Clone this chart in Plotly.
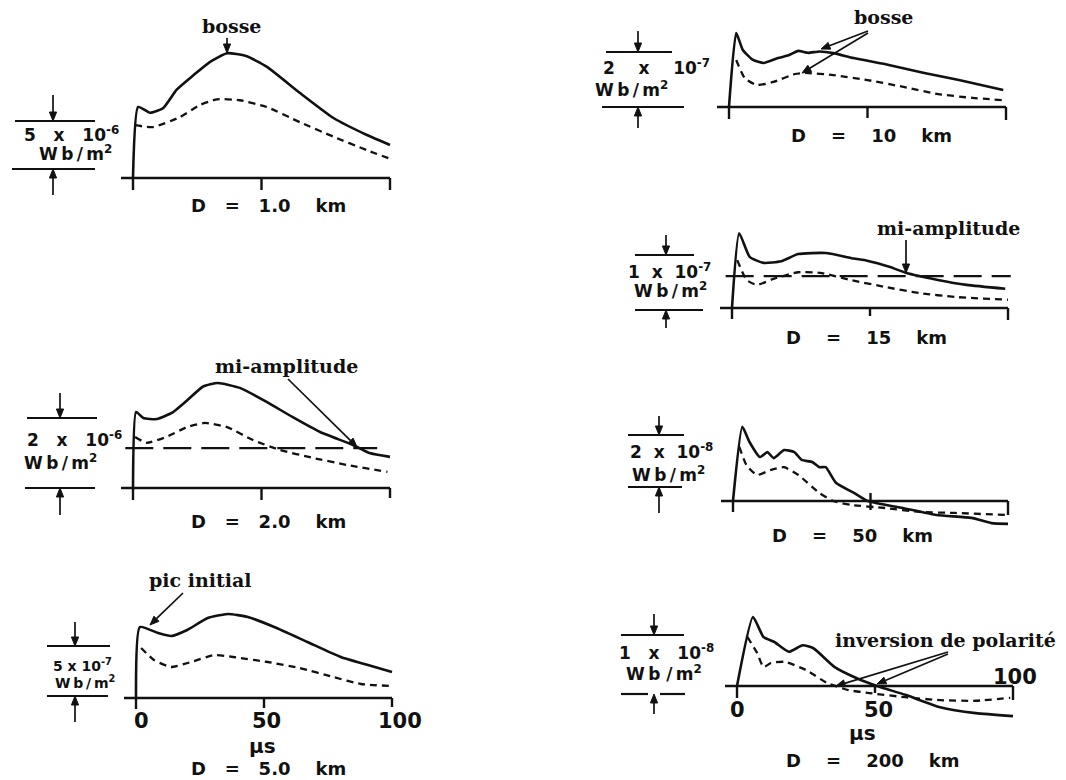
import math
import plotly.graph_objects as go

W, H = 1066, 780

# ---------------- data ----------------
# time in microseconds; amplitude in the unit written in each scale bar
# D = 1.0 km  (1e-6 Wb/m2)
T1_SOLID = [0, 2, 6.6, 11.8, 17, 23.5, 30, 36.6, 44, 52, 65, 78, 91, 100]
B1_SOLID = [0, 7.4, 6.8, 7.3, 9.2, 10.7, 12.1, 13.0, 12.7, 11.6, 8.85, 6.25, 4.48, 3.44]
T1_DASH = [0.8, 7.8, 18.3, 26, 32.7, 41.6, 52, 65, 78, 91, 100]
B1_DASH = [5.5, 5.3, 6.35, 7.6, 8.2, 8.1, 7.4, 5.8, 4.3, 2.9, 2.0]
# D = 2.0 km  (1e-6 Wb/m2)
T2_SOLID = [0, 1.2, 4, 9.3, 15.6, 21, 27.3, 33, 41.6, 52, 62, 72.8, 85.6, 92, 100]
B2_SOLID = [0, 2.17, 2.0, 1.97, 2.17, 2.5, 2.9, 3.0, 2.86, 2.46, 2.03, 1.6, 1.23, 1.0, 0.89]
T2_DASH = [0.8, 5.3, 13, 21, 28, 36.6, 46.7, 57, 70, 83, 99]
B2_DASH = [1.46, 1.29, 1.46, 1.74, 1.86, 1.74, 1.37, 1.09, 0.86, 0.66, 0.46]
MI_AMP_2KM = 1.14
# D = 5.0 km  (1e-7 Wb/m2)
T3_SOLID = [0, 1.5, 8.6, 13.7, 20, 28, 35.9, 43.7, 54, 67, 80, 90.6, 100]
B3_SOLID = [0, 7.1, 6.5, 6.2, 6.8, 8.0, 8.4, 8.1, 7.1, 5.6, 4.1, 3.3, 2.6]
T3_DASH = [2, 7, 13.7, 21.5, 30.6, 38, 51.5, 64, 77, 87.8, 100]
B3_DASH = [5.0, 3.8, 3.1, 3.6, 4.3, 4.1, 3.6, 3.0, 2.1, 1.4, 1.2]
# D = 10 km  (1e-7 Wb/m2)
T4_SOLID = [0, 2.6, 5, 8.7, 12.5, 17.7, 21.5, 25, 28.5, 32.7, 37.7, 45, 57.7, 70.5, 83, 99]
B4_SOLID = [0, 2.69, 2.07, 1.71, 1.6, 1.78, 1.88, 2.04, 1.97, 2.02, 1.96, 1.78, 1.53, 1.24, 0.98, 0.62]
T4_DASH = [2.6, 5.7, 10, 16, 23.8, 27.5, 37.7, 50, 63, 75.5, 88, 98.9]
B4_DASH = [1.71, 1.05, 0.8, 0.91, 1.2, 1.24, 1.16, 0.98, 0.73, 0.47, 0.33, 0.25]
# D = 15 km  (1e-7 Wb/m2)
T5_SOLID = [0, 2.6, 6.4, 11.4, 17.8, 24, 34, 44, 49, 57, 63, 74.6, 85, 99]
B5_SOLID = [0, 1.36, 0.93, 0.82, 0.85, 0.98, 1.0, 0.9, 0.86, 0.75, 0.64, 0.51, 0.42, 0.35]
T5_DASH = [1.9, 5.3, 9, 15, 24, 32, 43, 55.7, 68, 81, 100]
B5_DASH = [0.87, 0.51, 0.42, 0.53, 0.65, 0.64, 0.51, 0.38, 0.27, 0.2, 0.15]
MI_AMP_15KM = 0.58
# D = 50 km  (1e-8 Wb/m2)
T6_SOLID = [0, 3.4, 6, 9.8, 12.5, 14.8, 18.6, 22.3, 25, 28.8, 31.4, 33.7, 37.5, 44, 49, 61.7, 74, 86.7, 94, 100]
B6_SOLID = [0, 2.85, 2.27, 1.69, 1.88, 1.65, 1.96, 1.88, 1.58, 1.5, 1.3, 1.3, 0.69, 0.31, 0, -0.27, -0.54, -0.65, -0.85, -0.88]
T6_DASH = [2.3, 4.9, 8.7, 13.6, 18.6, 23.8, 31.4, 36.4, 42.8, 55.3, 67.8, 80.7, 99.6]
B6_DASH = [2.08, 1.38, 1.0, 1.19, 1.3, 1.0, 0.31, 0, -0.15, -0.27, -0.42, -0.46, -0.54]
# D = 200 km  (1e-8 Wb/m2)
T7_SOLID = [0, 5.8, 9.6, 13.4, 18.8, 23.8, 27.7, 35.4, 43, 50.7, 61, 73.6, 86.5, 100]
B7_SOLID = [0, 1.17, 0.83, 0.75, 0.58, 0.69, 0.64, 0.32, 0.14, 0, -0.15, -0.36, -0.46, -0.51]
T7_DASH = [3.8, 7.3, 9.6, 12.3, 17.3, 25, 32.7, 40.4, 48, 61, 73.6, 86.5, 99]
B7_DASH = [0.83, 0.56, 0.32, 0.39, 0.41, 0.27, 0.05, -0.07, -0.12, -0.19, -0.24, -0.25, -0.2]

X_TICKS = [0, 50, 100]
X_TICK_LABELS = ["0", "50", "100"]
NB = "\u00a0"
TS = "\u2009"

SANS = "DejaVu Sans"
SERIF = "DejaVu Serif"
INK = "#111111"


def sc(a, exp, gap):
    return a + NB * gap + "x" + NB * gap + "10<sup>" + exp + "</sup>"


UNIT = "W" + TS + "b" + TS + "/" + TS + "m<sup>2</sup>"


def title(dist, g1, g2, g3):
    return "D" + NB * g1 + "=" + NB * g2 + dist + NB * g3 + "km"


# ---------------- panel calibration (pixels) ----------------
PANELS = [
    dict(t=T1_SOLID, b=B1_SOLID, td=T1_DASH, bd=B1_DASH, x0=133, x100=390, base=178, ppu=48 / 5,
         title=title("1.0", 3, 3, 4), title_xy=(268, 206),
         scale=sc("5", "-6", 3), unit=UNIT, lsize=17,
         lab1=(71, 134), lab2=(75, 153),
         bar_top=121, bar_bot=169, top_x=[(15, 95)], bot_x=[(12, 95)], arr_x=53, top_tail=95, bot_tail=195,
         tick_dn=[12, 12, 12]),
    dict(t=T2_SOLID, b=B2_SOLID, td=T2_DASH, bd=B2_DASH, x0=133, x100=390, base=488, ppu=70 / 2,
         title=title("2.0", 3, 3, 4), title_xy=(268, 521),
         scale=sc("2", "-6", 3), unit=UNIT, lsize=17,
         lab1=(74, 439), lab2=(60, 462),
         bar_top=418, bar_bot=488, top_x=[(27, 97)], bot_x=[(25, 95)], arr_x=60, top_tail=393, bot_tail=515,
         tick_dn=[12, 12, 10], level=MI_AMP_2KM, level_x=(-3, 95)),
    dict(t=T3_SOLID, b=B3_SOLID, td=T3_DASH, bd=B3_DASH, x0=136, x100=392, base=698, ppu=50 / 5,
         title=title("5.0", 3, 3, 4), title_xy=(268, 768),
         scale=sc("5", "-7", 1), unit=UNIT, lsize=14,
         lab1=(82, 665), lab2=(85, 682),
         bar_top=646, bar_bot=696, top_x=[(47, 110)], bot_x=[(47, 108)], arr_x=75, top_tail=622, bot_tail=722,
         tick_dn=[11, 10, 9], ticklabels=[(141, 721), (266, 721), (400, 721)], mu=(262, 746)),
    dict(t=T4_SOLID, b=B4_SOLID, td=T4_DASH, bd=B4_DASH, x0=729, x100=1006, base=107, ppu=55 / 2,
         title=title("10", 4, 4, 4), title_xy=(871, 135),
         scale=sc("2", "-7", 4), unit=UNIT, lsize=17,
         lab1=(656, 67), lab2=(631, 89),
         bar_top=52, bar_bot=107, top_x=[(606, 672)], bot_x=[(602, 684)], arr_x=638, top_tail=31, bot_tail=128,
         tick_dn=[12, 11, 13]),
    dict(t=T5_SOLID, b=B5_SOLID, td=T5_DASH, bd=B5_DASH, x0=732, x100=1008, base=308, ppu=55,
         title=title("15", 4, 4, 4), title_xy=(866, 337),
         scale=sc("1", "-7", 2), unit=UNIT, lsize=17,
         lab1=(669, 271), lab2=(670, 290),
         bar_top=255, bar_bot=310, top_x=[(635, 694)], bot_x=[(635, 703)], arr_x=666, top_tail=235, bot_tail=328,
         tick_dn=[11, 8, 12], level=MI_AMP_15KM, level_x=(-2.3, 101)),
    dict(t=T6_SOLID, b=B6_SOLID, td=T6_DASH, bd=B6_DASH, x0=733, x100=1008, base=501, ppu=52 / 2,
         title=title("50", 4, 4, 4), title_xy=(852, 535),
         scale=sc("2", "-8", 2), unit=UNIT, lsize=17,
         lab1=(671, 451), lab2=(668, 474),
         bar_top=435, bar_bot=487, top_x=[(628, 684)], bot_x=[(628, 682)], arr_x=659, top_tail=416, bot_tail=513,
         tick_dn=[11, 9, 14], tick_up50=8),
    dict(t=T7_SOLID, b=B7_SOLID, td=T7_DASH, bd=B7_DASH, x0=737, x100=1013, base=686, ppu=59,
         title=title("200", 4, 4, 4), title_xy=(873, 760),
         scale=sc("1", "-8", 3), unit="W" + TS + "b" + NB + "/" + TS + "m<sup>2</sup>", lsize=17,
         lab1=(666, 652), lab2=(664, 673),
         bar_top=635, bar_bot=694, top_x=[(621, 684)], bot_x=[(621, 648), (660, 685)], arr_x=654,
         top_tail=614, bot_tail=714,
         tick_dn=[12, 7, 14], ticklabels=[(737, 710), (878, 710), (1015, 677)], mu=(862, 733)),
]

fig = go.Figure()
ann, shapes = [], []
layout_axes = {}


def P(px, py):
    return px / W, 1 - py / H


def text(px, py, s, size, family=SANS, weight="bold"):
    x, y = P(px, py)
    ann.append(dict(x=x, y=y, xref="paper", yref="paper", text=s, showarrow=False,
                    font=dict(family=family, size=size, color=INK, weight=weight),
                    xanchor="center", yanchor="middle"))


def pline(x1, y1, x2, y2, width=2.2):
    a, b = P(x1, y1)
    c, d = P(x2, y2)
    shapes.append(dict(type="line", xref="paper", yref="paper", x0=a, y0=b, x1=c, y1=d,
                       line=dict(color=INK, width=width)))


def arrow(hx, hy, tx, ty, width=1.7, head=9.0, half=3.6):
    dx, dy = hx - tx, hy - ty
    L = math.hypot(dx, dy)
    ux, uy = dx / L, dy / L
    bx, by = hx - ux * head, hy - uy * head
    pline(tx, ty, bx, by, width)
    pts = [(hx, hy), (bx - uy * half, by + ux * half), (bx + uy * half, by - ux * half)]
    path = "M " + " L ".join("%.5f,%.5f" % P(qx, qy) for qx, qy in pts) + " Z"
    shapes.append(dict(type="path", xref="paper", yref="paper", path=path,
                       fillcolor=INK, line=dict(color=INK, width=1)))


for i, p in enumerate(PANELS, start=1):
    sfx = "" if i == 1 else str(i)
    xa, ya = "x" + sfx, "y" + sfx
    sx = (p["x100"] - p["x0"]) / 100.0
    ppu = p["ppu"]
    vals = p["b"] + p["bd"]
    left_px, right_px = p["x0"] - 30, min(p["x100"] + 20, W)
    top_px = p["base"] - max(vals) * ppu - 25
    bot_px = p["base"] - min(vals) * ppu + 30
    layout_axes["xaxis" + sfx] = dict(domain=[left_px / W, right_px / W],
                                      range=[(left_px - p["x0"]) / sx, (right_px - p["x0"]) / sx],
                                      visible=False, fixedrange=True, anchor=ya)
    layout_axes["yaxis" + sfx] = dict(domain=[1 - bot_px / H, 1 - top_px / H],
                                      range=[(p["base"] - bot_px) / ppu, (p["base"] - top_px) / ppu],
                                      visible=False, fixedrange=True, anchor=xa)

    # curves
    fig.add_trace(go.Scatter(x=p["t"], y=p["b"], mode="lines", xaxis=xa, yaxis=ya,
                             line=dict(color=INK, width=2.6, shape="spline", smoothing=0.5),
                             hoverinfo="skip"))
    fig.add_trace(go.Scatter(x=p["td"], y=p["bd"], mode="lines", xaxis=xa, yaxis=ya,
                             line=dict(color=INK, width=2.3, dash="7px,5px", shape="spline", smoothing=0.5),
                             hoverinfo="skip"))
    if "level" in p:
        fig.add_trace(go.Scatter(x=list(p["level_x"]), y=[p["level"], p["level"]], mode="lines",
                                 xaxis=xa, yaxis=ya, line=dict(color=INK, width=2.3, dash="28px,10px"),
                                 hoverinfo="skip"))

    # baseline (time axis) and ticks
    shapes.append(dict(type="line", xref=xa, yref=ya, x0=-12 / sx, x1=100, y0=0, y1=0,
                       line=dict(color=INK, width=2.4)))
    for k, tv in enumerate(X_TICKS):
        up = p.get("tick_up50", 0) / ppu if tv == 50 else 0
        shapes.append(dict(type="line", xref=xa, yref=ya, x0=tv, x1=tv,
                           y0=up, y1=-p["tick_dn"][k] / ppu, line=dict(color=INK, width=2.4)))
    if "ticklabels" in p:
        for lab, (tx, ty) in zip(X_TICK_LABELS, p["ticklabels"]):
            text(tx, ty, lab, 21)
        text(p["mu"][0], p["mu"][1], "μs", 20)

    # scale bar
    for a, b in p["top_x"]:
        pline(a, p["bar_top"], b, p["bar_top"])
    for a, b in p["bot_x"]:
        pline(a, p["bar_bot"], b, p["bar_bot"])
    arrow(p["arr_x"], p["bar_top"], p["arr_x"], p["top_tail"])
    arrow(p["arr_x"], p["bar_bot"], p["arr_x"], p["bot_tail"])
    text(p["lab1"][0], p["lab1"][1], p["scale"], p["lsize"])
    text(p["lab2"][0], p["lab2"][1], p["unit"], p["lsize"])

    # panel title
    text(p["title_xy"][0], p["title_xy"][1], p["title"], 18)

# serif annotations
text(231, 26, "bosse", 19, family=SERIF)
arrow(227, 53, 227, 38)
text(286, 366, "mi-amplitude", 19, family=SERIF)
arrow(357, 447, 288, 379)
text(200, 580, "pic initial", 19, family=SERIF)
arrow(150, 625, 183, 593)
text(883, 17, "bosse", 19, family=SERIF)
arrow(821, 49, 868, 31)
arrow(802, 73, 868, 33)
text(948, 228, "mi-amplitude", 19, family=SERIF)
arrow(906, 273, 906, 240)
text(945, 640, "inversion de polarité", 19, family=SERIF)
arrow(836, 686, 948, 652)
arrow(877, 684, 948, 654)

fig.update_layout(width=W, height=H, margin=dict(l=0, r=0, t=0, b=0),
                  paper_bgcolor="white", plot_bgcolor="rgba(0,0,0,0)", showlegend=False,
                  annotations=ann, shapes=shapes, **layout_axes)
fig.write_html("out.html")
